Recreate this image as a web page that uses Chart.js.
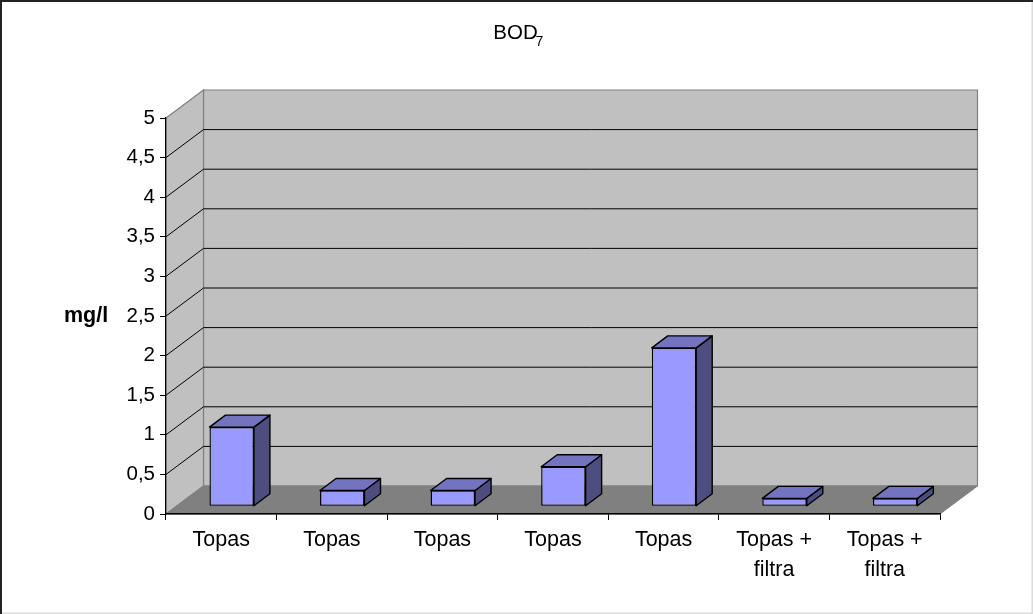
<!DOCTYPE html>
<html><head><meta charset="utf-8">
<style>html,body{margin:0;padding:0;background:#fff}canvas{display:block}</style>
<script src="https://cdn.jsdelivr.net/npm/chart.js@4"></script>
</head><body>
<canvas id="c" width="1033" height="614"></canvas>
<script>
const categories = ['Topas','Topas','Topas','Topas','Topas',['Topas +','filtra'],['Topas +','filtra']];
const values = [1,0.2,0.2,0.5,2,0.1,0.1];
const yTicks = ['0','0,5','1','1,5','2','2,5','3','3,5','4','4,5','5'];
const titleText = 'BOD';
const titleSub = '7';
const yAxisLabel = 'mg/l';
const FONT = '"Liberation Sans", Arial, sans-serif';
const FS = 20.5;
const FSX = 21.5;
const wallD = {x:37.5, y:-28};
const barD = {x:16, y:-12};
const barShift = {x:10.4, y:-7.7};

function poly(ctx, pts, fill, stroke, lw){
  ctx.beginPath();
  pts.forEach((p,i)=> i?ctx.lineTo(p[0],p[1]):ctx.moveTo(p[0],p[1]));
  ctx.closePath();
  if(fill){ctx.fillStyle=fill;ctx.fill();}
  if(stroke){ctx.strokeStyle=stroke;ctx.lineWidth=lw||1;ctx.stroke();}
}
const scene = {
  id:'scene',
  beforeDraw(chart){
    const {ctx,chartArea:a,scales:{y}} = chart;
    const L=a.left,R=a.right,T=a.top,B=a.bottom,dx=wallD.x,dy=wallD.y;
    ctx.save();
    ctx.fillStyle='#fff';ctx.fillRect(0,0,chart.width,chart.height);
    // page frame
    ctx.strokeStyle='#dcdcdc';ctx.lineWidth=1.5;
    ctx.beginPath();ctx.moveTo(chart.width-.75,0);ctx.lineTo(chart.width-.75,chart.height-.75);ctx.lineTo(0,chart.height-.75);ctx.stroke();
    ctx.strokeStyle='#222';ctx.lineWidth=2;
    ctx.beginPath();ctx.moveTo(1,chart.height);ctx.lineTo(1,1);ctx.lineTo(chart.width,1);ctx.stroke();
    // walls and floor
    poly(ctx,[[L+dx,T+dy],[R+dx,T+dy],[R+dx,B+dy],[L+dx,B+dy]],'#c0c0c0','#808080',1.2);
    poly(ctx,[[L,T],[L+dx,T+dy],[L+dx,B+dy],[L,B]],'#c0c0c0','#808080',1.2);
    poly(ctx,[[L,B],[L+dx,B+dy],[R+dx,B+dy],[R,B]],'#808080','#808080',1);
    // gridlines
    ctx.strokeStyle='#000';ctx.lineWidth=1;
    y.ticks.forEach(t=>{
      if(t.value<=0||t.value>=5) return;
      const p=y.getPixelForValue(t.value);
      ctx.beginPath();ctx.moveTo(L,p);ctx.lineTo(L+dx,p+dy);ctx.lineTo(R+dx,p+dy);ctx.stroke();
    });
    ctx.restore();
  },
  beforeDatasetDraw(chart,args){
    const ctx=chart.ctx;
    ctx.save();
    ctx.translate(barShift.x,barShift.y);
    const dx=barD.x,dy=barD.y;
    args.meta.data.forEach(el=>{
      const p=el.getProps(['x','y','base','width'],true);
      const l=p.x-p.width/2,r=p.x+p.width/2;
      ctx.lineJoin='round';
      poly(ctx,[[r,p.y],[r+dx,p.y+dy],[r+dx,p.base+dy],[r,p.base]],'#4d4d80','#000',1.4);
      poly(ctx,[[l,p.y],[l+dx,p.y+dy],[r+dx,p.y+dy],[r,p.y]],'#7373bf','#000',1.4);
    });
  },
  afterDatasetDraw(chart){ chart.ctx.restore(); },
  afterDraw(chart){
    const ctx=chart.ctx;
    ctx.save();
    ctx.fillStyle='#000';
    ctx.textBaseline='middle';ctx.textAlign='left';
    ctx.font='bold '+FSX+'px '+FONT;
    ctx.fillText(yAxisLabel,64,316.5);
    ctx.font='14px '+FONT;
    ctx.fillText(titleSub,535.5,42.5);
    ctx.restore();
  }
};
new Chart(document.getElementById('c'),{
  type:'bar',
  data:{labels:categories,datasets:[{data:values,backgroundColor:'#9999ff',borderColor:'#000',borderWidth:1.4,borderSkipped:false,barPercentage:0.402,categoryPercentage:1}]},
  options:{
    responsive:false,animation:false,devicePixelRatio:1,
    layout:{padding:{left:91,right:93,top:0,bottom:30}},
    plugins:{
      legend:{display:false},tooltip:{enabled:false},
      title:{display:true,text:titleText,color:'#000',font:{family:FONT,size:20.5,weight:'normal',lineHeight:1},padding:{top:23.5,bottom:74}}
    },
    scales:{
      x:{
        afterFit(s){s.height=70;},
        grid:{drawOnChartArea:false,color:'#000',tickLength:6,tickColor:'#000'},
        border:{color:'#000',width:1.5},
        ticks:{color:'#000',font:{family:FONT,size:FSX,lineHeight:1.4},maxRotation:0,autoSkip:false,padding:5}
      },
      y:{
        min:0,max:5,
        afterFit(s){s.width=75;},
        grid:{drawOnChartArea:false,color:'#000',tickLength:6,tickColor:'#000'},
        border:{color:'#000',width:1.2},
        ticks:{stepSize:0.5,color:'#000',font:{family:FONT,size:FS},padding:5,callback:(v)=>yTicks[Math.round(v*2)]}
      }
    }
  },
  plugins:[scene]
});
</script>
</body></html>
